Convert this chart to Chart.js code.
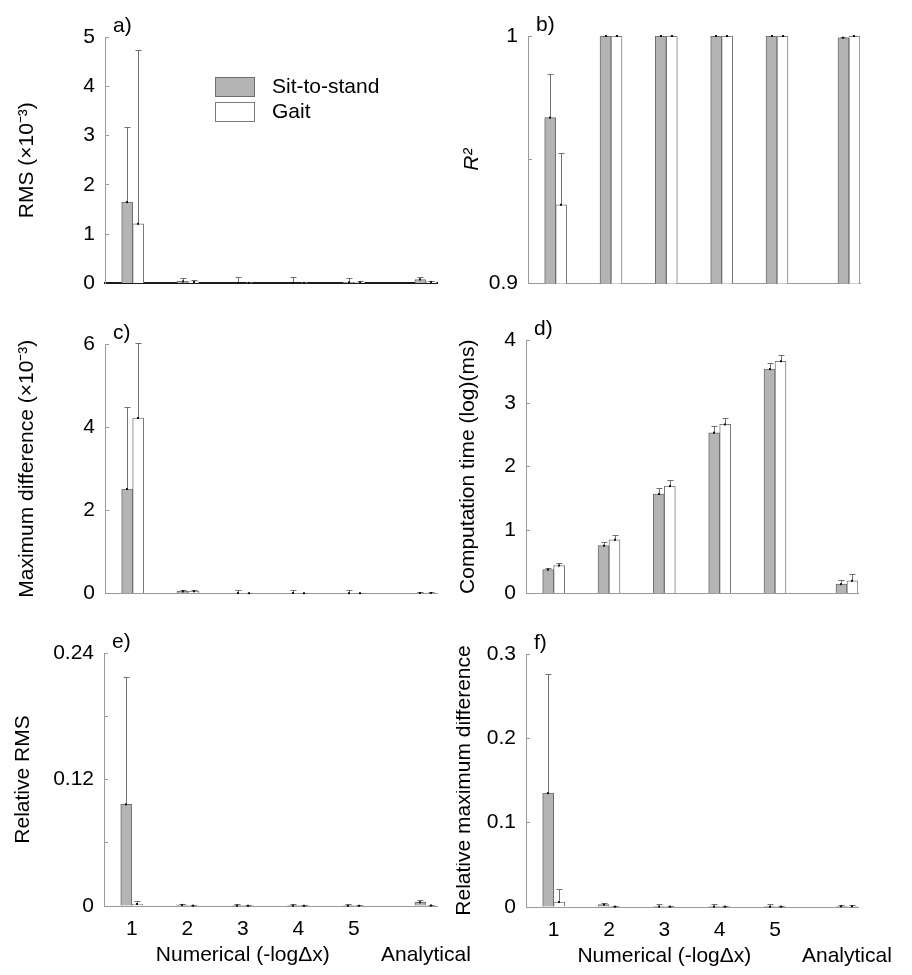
<!DOCTYPE html>
<html>
<head>
<meta charset="utf-8">
<script src="https://cdn.jsdelivr.net/npm/chart.js@4.4.1/dist/chart.umd.min.js"></script>
<style>
  html, body { margin: 0; background: #fff; }
  #figure { position: relative; width: 912px; height: 975px; overflow: hidden; }
  .panel { position: absolute; }
</style>
</head>
<body>
<div id="figure"></div>
<script>
// group positions on the x axis: five numerical step sizes, then the analytical result
const groupPositions = [1, 2, 3, 4, 5, 6.3];
const groupLabels = ["1", "2", ["3", "Numerical (-logΔx)"], "4", "5", ["", "Analytical"]];
const seriesNames = ["Sit-to-stand", "Gait"];

// a) RMS (x10^-3)
const rmsSit = [1.65, 0.04, 0.01, 0.01, 0.02, 0.08];
const rmsSitSd = [1.53, 0.06, 0.12, 0.12, 0.08, 0.05];
const rmsGait = [1.21, 0.03, 0.01, 0.01, 0.02, 0.03];
const rmsGaitSd = [3.53, 0.03, 0.02, 0.02, 0.02, 0.02];
const rmsTicks = [0, 1, 2, 3, 4, 5];
const rmsTickLabels = ["0", "1", "2", "3", "4", "5"];

// b) R^2
const r2Sit = [0.967, 1.0, 1.0, 1.0, 1.0, 0.9993];
const r2SitSd = [0.0175, 0.0002, 0.0002, 0.0002, 0.0002, 0.0002];
const r2Gait = [0.9318, 1.0, 1.0, 1.0, 1.0, 1.0];
const r2GaitSd = [0.0208, 0.0001, 0.0001, 0.0001, 0.0001, 0.0001];
const r2Ticks = [0.9, 0.95, 1];
const r2TickLabels = ["0.9", "", "1"];

// c) Maximum difference (x10^-3)
const maxDiffSit = [2.51, 0.05, 0.01, 0.01, 0.005, 0.01];
const maxDiffSitSd = [1.97, 0.03, 0.08, 0.08, 0.08, 0.03];
const maxDiffGait = [4.22, 0.05, 0.005, 0.005, 0.005, 0.01];
const maxDiffGaitSd = [1.8, 0.03, 0.01, 0.01, 0.01, 0.02];
const maxDiffTicks = [0, 2, 4, 6];
const maxDiffTickLabels = ["0", "2", "4", "6"];

// d) Computation time (log ms)
const timeSit = [0.376, 0.753, 1.569, 2.536, 3.54, 0.146];
const timeSitSd = [0.03, 0.063, 0.09, 0.1, 0.1, 0.073];
const timeGait = [0.44, 0.847, 1.694, 2.667, 3.665, 0.199];
const timeGaitSd = [0.045, 0.08, 0.09, 0.1, 0.1, 0.105];
const timeTicks = [0, 1, 2, 3, 4];
const timeTickLabels = ["0", "1", "2", "3", "4"];

// e) Relative RMS
const relRmsSit = [0.0964, 0.001, 0.0003, 0.0003, 0.0002, 0.0035];
const relRmsSitSd = [0.121, 0.001, 0.002, 0.002, 0.002, 0.0025];
const relRmsGait = [0.0019, 0.0003, 0.0002, 0.0002, 0.0002, 0.0005];
const relRmsGaitSd = [0.0025, 0.0003, 0.0003, 0.0003, 0.0003, 0.0003];
const relRmsTicks = [0, 0.06, 0.12, 0.18, 0.24];
const relRmsTickLabels = ["0", "", "0.12", "", "0.24"];

// f) Relative maximum difference
const relMaxSit = [0.135, 0.0028, 0.0005, 0.0005, 0.0003, 0.0008];
const relMaxSitSd = [0.141, 0.0015, 0.003, 0.003, 0.003, 0.001];
const relMaxGait = [0.0059, 0.0004, 0.0004, 0.0004, 0.0004, 0.0008];
const relMaxGaitSd = [0.0154, 0.0003, 0.0003, 0.0003, 0.0003, 0.001];
const relMaxTicks = [0, 0.1, 0.2, 0.3];
const relMaxTickLabels = ["0", "0.1", "0.2", "0.3"];

const FONT = "'Liberation Sans', Arial, sans-serif";
const AXIS_GREY = "#9a9a9a";
Chart.defaults.font.family = FONT;
Chart.defaults.font.size = 21;
Chart.defaults.color = "#000";

const errorBars = {
  id: "errorBars",
  afterDatasetsDraw(chart) {
    const { ctx } = chart;
    const yScale = chart.scales.y;
    chart.data.datasets.forEach((dataset, i) => {
      chart.getDatasetMeta(i).data.forEach((bar, j) => {
        const x = Math.round(bar.x) + 0.5;
        const top = Math.round(yScale.getPixelForValue(dataset.data[j].y + dataset.errors[j])) + 0.5;
        ctx.save();
        ctx.strokeStyle = "#707070";
        ctx.lineWidth = 1;
        ctx.beginPath();
        ctx.moveTo(x, bar.y);
        ctx.lineTo(x, top);
        ctx.moveTo(x - 3, top);
        ctx.lineTo(x + 3, top);
        ctx.stroke();
        ctx.fillStyle = "#111";
        ctx.fillRect(x - 1.5, bar.y - 1, 2, 2);
        ctx.restore();
      });
    });
  },
};

const panelTag = {
  id: "panelTag",
  afterDraw(chart, args, opts) {
    const { ctx, chartArea } = chart;
    ctx.save();
    ctx.font = `21px ${FONT}`;
    ctx.fillStyle = "#000";
    ctx.textBaseline = "middle";
    ctx.fillText(opts.text, chartArea.left + 8, chartArea.top - 11);
    ctx.restore();
  },
};

const insetLegend = {
  id: "insetLegend",
  afterDraw(chart, args, opts) {
    if (!opts.show) return;
    const { ctx, chartArea } = chart;
    ctx.save();
    ctx.font = `21px ${FONT}`;
    ctx.textBaseline = "middle";
    chart.data.datasets.forEach((ds, i) => {
      const x = chartArea.left + opts.left;
      const y = chartArea.top + opts.top + i * opts.rowStep;
      ctx.fillStyle = ds.backgroundColor;
      ctx.fillRect(x, y, opts.boxWidth, opts.boxHeight);
      ctx.strokeStyle = ds.borderColor;
      ctx.lineWidth = 1;
      ctx.strokeRect(x + 0.5, y + 0.5, opts.boxWidth, opts.boxHeight);
      ctx.fillStyle = "#000";
      ctx.fillText(ds.label, x + opts.textOffset, y + opts.boxHeight / 2 + 1);
    });
    ctx.restore();
  },
};

function toPoints(values) {
  return values.map((y, i) => ({ x: groupPositions[i], y }));
}

function makePanel(spec) {
  const { box, area } = spec;
  const holder = document.createElement("div");
  holder.className = "panel";
  holder.style.left = `${box.left}px`;
  holder.style.top = `${box.top}px`;
  holder.style.width = `${box.width}px`;
  holder.style.height = `${box.height}px`;
  const canvas = document.createElement("canvas");
  holder.appendChild(canvas);
  document.getElementById("figure").appendChild(holder);

  new Chart(canvas, {
    type: "bar",
    data: {
      datasets: [
        {
          label: seriesNames[0],
          data: toPoints(spec.sit),
          errors: spec.sitSd,
          backgroundColor: "#b4b4b4",
          borderColor: "#6e6e6e",
          borderWidth: 1,
          barThickness: 11,
        },
        {
          label: seriesNames[1],
          data: toPoints(spec.gait),
          errors: spec.gaitSd,
          backgroundColor: "#ffffff",
          borderColor: "#7a7a7a",
          borderWidth: 1,
          barThickness: 11,
        },
      ],
    },
    options: {
      responsive: true,
      maintainAspectRatio: false,
      animation: false,
      events: [],
      layout: {
        padding: { top: area.top - box.top, right: box.left + box.width - area.right, bottom: 0, left: 0 },
      },
      plugins: {
        legend: { display: false },
        tooltip: { enabled: false },
        panelTag: { text: spec.tag },
        insetLegend: spec.legend || { show: false },
      },
      scales: {
        x: {
          type: "linear",
          offset: false,
          min: 0.5,
          max: 6.5,
          afterBuildTicks: (scale) => {
            scale.ticks = groupPositions.map((value) => ({ value }));
          },
          afterFit: (scale) => {
            scale.height = box.top + box.height - area.bottom;
          },
          grid: { display: false, drawTicks: false, offset: false },
          border: { color: spec.xAxisColor || AXIS_GREY, width: spec.xAxisWidth || 1 },
          ticks: {
            display: !!spec.showGroups,
            autoSkip: false,
            maxRotation: 0,
            padding: 11,
            callback: (value, i) => groupLabels[i],
          },
        },
        y: {
          min: spec.yTicks[0],
          max: spec.yTicks[spec.yTicks.length - 1],
          afterBuildTicks: (scale) => {
            scale.ticks = spec.yTicks.map((value) => ({ value }));
          },
          afterFit: (scale) => {
            scale.width = area.left - box.left;
          },
          grid: { drawOnChartArea: false, tickLength: -4, color: AXIS_GREY },
          border: { color: AXIS_GREY },
          ticks: { padding: 14, callback: (value, i) => spec.yTickLabels[i] },
          title: {
            display: true,
            text: spec.title,
            padding: { top: spec.titlePad, bottom: 0 },
            font: { size: 21, style: spec.titleStyle || "normal" },
          },
        },
      },
    },
    plugins: [errorBars, panelTag, insetLegend],
  });
}

makePanel({
  tag: "a)",
  box: { left: 0, top: 0, width: 500, height: 310 },
  area: { left: 105, top: 37, right: 437, bottom: 290 },
  sit: rmsSit, sitSd: rmsSitSd, gait: rmsGait, gaitSd: rmsGaitSd,
  yTicks: rmsTicks, yTickLabels: rmsTickLabels,
  title: "RMS (×10⁻³)", titlePad: 15,
  xAxisColor: "#1a1a1a", xAxisWidth: 2,
  legend: { show: true, left: 110, top: 40, rowStep: 25, boxWidth: 39, boxHeight: 19, textOffset: 57 },
});

makePanel({
  tag: "c)",
  box: { left: 0, top: 310, width: 500, height: 310 },
  area: { left: 105, top: 344, right: 437, bottom: 594 },
  sit: maxDiffSit, sitSd: maxDiffSitSd, gait: maxDiffGait, gaitSd: maxDiffGaitSd,
  yTicks: maxDiffTicks, yTickLabels: maxDiffTickLabels,
  title: "Maximum difference (×10⁻³)", titlePad: 15,
});

makePanel({
  tag: "e)",
  box: { left: 0, top: 620, width: 500, height: 355 },
  area: { left: 104, top: 653, right: 437, bottom: 906 },
  sit: relRmsSit, sitSd: relRmsSitSd, gait: relRmsGait, gaitSd: relRmsGaitSd,
  yTicks: relRmsTicks, yTickLabels: relRmsTickLabels,
  title: "Relative RMS", titlePad: 11,
  showGroups: true,
});

makePanel({
  tag: "b)",
  box: { left: 456, top: 0, width: 456, height: 310 },
  area: { left: 528, top: 36, right: 860, bottom: 290 },
  sit: r2Sit, sitSd: r2SitSd, gait: r2Gait, gaitSd: r2GaitSd,
  yTicks: r2Ticks, yTickLabels: r2TickLabels,
  title: "R²", titlePad: 4, titleStyle: "italic",
});

makePanel({
  tag: "d)",
  box: { left: 456, top: 310, width: 456, height: 310 },
  area: { left: 526, top: 340, right: 858, bottom: 595 },
  sit: timeSit, sitSd: timeSitSd, gait: timeGait, gaitSd: timeGaitSd,
  yTicks: timeTicks, yTickLabels: timeTickLabels,
  title: "Computation time (log)(ms)", titlePad: 0,
});

makePanel({
  tag: "f)",
  box: { left: 456, top: 620, width: 456, height: 355 },
  area: { left: 526, top: 654, right: 858, bottom: 907 },
  sit: relMaxSit, sitSd: relMaxSitSd, gait: relMaxGait, gaitSd: relMaxGaitSd,
  yTicks: relMaxTicks, yTickLabels: relMaxTickLabels,
  title: "Relative maximum difference", titlePad: -4,
  showGroups: true,
});
</script>
</body>
</html>
